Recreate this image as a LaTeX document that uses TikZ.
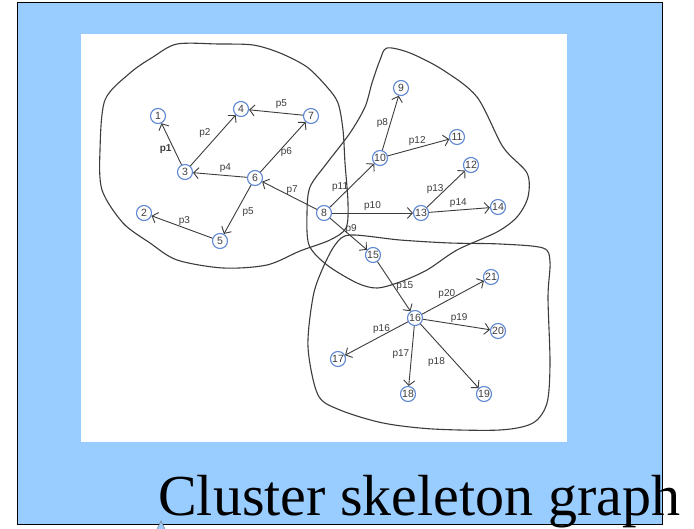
\documentclass[tikz,border=0pt]{standalone}
\usepackage{fontspec}
\setmainfont{Liberation Sans}
\newfontfamily\titlefont{Liberation Serif}
\usepackage{tikz}
\usetikzlibrary{arrows.meta, positioning}
\definecolor{slideblue}{RGB}{153,204,255}
\definecolor{ringblue}{RGB}{95,135,210}
\definecolor{inkgray}{RGB}{60,60,60}
\tikzset{vertex/.style={circle,draw=ringblue,line width=1.1pt,fill=white,minimum size=15pt,inner sep=0pt,text=inkgray,font=\fontsize{10.5}{10.5}\selectfont},
         plabel/.style={font=\fontsize{10}{10}\selectfont,text=inkgray,inner sep=2pt},
         cluster/.style={draw=inkgray,line width=1.1pt},
         link/.style={-{Straight Barb[length=5pt,width=11pt]},draw=inkgray,line width=0.9pt}}

\begin{document}
\begin{tikzpicture}[x=1pt,y=-1pt]
    \useasboundingbox (0,0) rectangle (694,529);
    % slide background and white picture area
    \draw[fill=slideblue,draw=black,line width=1pt] (17,3) rectangle (662,524);
    \fill[white] (81,34) rectangle (567,442);
    \draw[fill=slideblue,draw=gray,line width=0.5pt] (157,529) -- (161,521) -- (165,529);
    \node (title) [anchor=base west,inner sep=0pt,font=\titlefont\fontsize{58}{58}\selectfont] at (158,515) {Cluster skeleton graph};
    % hand drawn clusters
    \draw[cluster] plot[smooth cycle] coordinates {(153,57) (177,44) (218,44) (253,45) (280,53) (307,67) (327,87) (338,103) (343,130) (345,163) (348,203) (346,228) (330,240) (300,251) (267,265) (223,268) (177,260) (150,243) (123,223) (102,190) (100,150) (105,100) (130,73)};
    \draw[cluster] plot[smooth cycle] coordinates {(387,48) (410,53) (443,70) (477,97) (503,147) (527,173) (528,197) (517,217) (497,232) (457,250) (427,270) (400,282) (377,288) (357,283) (327,265) (309,245) (307,213) (310,187) (327,163) (350,133) (365,107) (372,83) (380,60)};
    \draw[cluster] plot[smooth cycle] coordinates {(350,235) (400,240) (450,243) (500,244) (543,248) (550,262) (548,297) (550,363) (547,403) (533,423) (500,430) (433,429) (383,423) (340,410) (318,395) (308,347) (313,297) (322,270) (335,245)};
    % skeleton vertices
    \node (v1) [vertex] at (158,116) {1};
    \node (v2) [vertex] at (144,213) {2};
    \node (v3) [vertex] at (185,172) {3};
    \node (v4) [vertex] at (241,109) {4};
    \node (v5) [vertex] at (220,241) {5};
    \node (v6) [vertex] at (255,178) {6};
    \node (v7) [vertex] at (311,116) {7};
    \node (v8) [vertex] at (324,213) {8};
    \node (v9) [vertex] at (401,88) {9};
    \node (v10) [vertex] at (380,158) {10};
    \node (v11) [vertex] at (457,137) {11};
    \node (v12) [vertex] at (471,165) {12};
    \node (v13) [vertex] at (421,213) {13};
    \node (v14) [vertex] at (498,207) {14};
    \node (v15) [vertex] at (373,255) {15};
    \node (v16) [vertex] at (415,318) {16};
    \node (v17) [vertex] at (338,359) {17};
    \node (v18) [vertex] at (408,394) {18};
    \node (v19) [vertex] at (484,394) {19};
    \node (v20) [vertex] at (498,331) {20};
    \node (v21) [vertex] at (491,277) {21};
    % paths between vertices
    \draw[link] (v3) -- node[plabel,left,pos=.38]{\textbf{p1}} (v1);
    \draw[link] (v3) -- node[plabel,above left,pos=.5]{p2} (v4);
    \draw[link] (v7) -- node[plabel,above,pos=.4,yshift=2]{p5} (v4);
    \draw[link] (v6) -- node[plabel,right,pos=.4]{p6} (v7);
    \draw[link] (v6) -- node[plabel,above,pos=.4]{p4} (v3);
    \draw[link] (v5) -- node[plabel,above,pos=.46]{p3} (v2);
    \draw[link] (v6) -- node[plabel,right,pos=.55,xshift=4]{p5} (v5);
    \draw[link] (v8) -- node[plabel,above,pos=.3,xshift=-3]{p11} (v10);
    \draw[link] (v8) -- node[plabel,above,pos=.45]{p7} (v6);
    \draw[link] (v10) -- node[plabel,left,pos=.5]{p8} (v9);
    \draw[link] (v10) -- node[plabel,above,pos=.48]{p12} (v11);
    \draw[link] (v8) -- node[plabel,above,pos=.5]{p10} (v13);
    \draw[link] (v13) -- node[plabel,left,pos=.5]{p13} (v12);
    \draw[link] (v13) -- node[plabel,above,pos=.48]{p14} (v14);
    \draw[link] (v8) -- node[plabel,above,pos=.57]{p9} (v15);
    \draw[link] (v15) -- node[plabel,right,pos=.5]{p15} (v16);
    \draw[link] (v16) -- node[plabel,above,pos=.4]{p20} (v21);
    \draw[link] (v16) -- node[plabel,above,pos=.54]{p19} (v20);
    \draw[link] (v16) -- node[plabel,above,pos=.42]{p16} (v17);
    \draw[link] (v16) -- node[plabel,left,pos=.47]{p17} (v18);
    \draw[link] (v16) -- node[plabel,left,pos=.6,xshift=-8]{p18} (v19);
\end{tikzpicture}
\end{document}
